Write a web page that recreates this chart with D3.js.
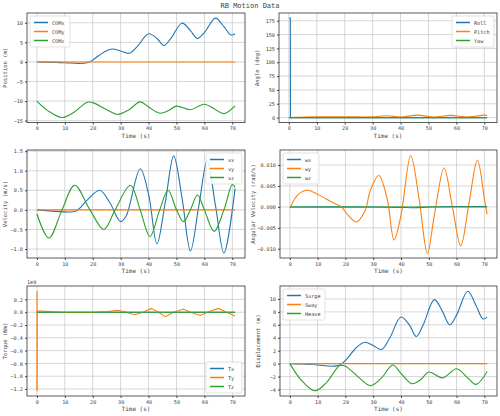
<!DOCTYPE html><html><head><meta charset="utf-8">
<script src="https://cdn.jsdelivr.net/npm/d3@7"></script>
<style>body{margin:0;background:#fff}text{font-family:"DejaVu Sans Mono",monospace;fill:#444}</style></head><body>
<svg id="c" width="500" height="416"></svg>
<script>
const xTicks=[0,10,20,30,40,50,60,70];
const surgeT=[0,5,10,15,18,20,24,27,30,33,36,40,43,45.5,48,52,55,57.5,60,64,67,69.5,71];
const surgeV=[0,-0.05,-0.2,-0.4,-0.2,0.5,2.5,3.3,2.8,2.2,4,7.2,6,4.2,6,9.9,8,6,7.5,11.2,9,6.9,7.2];
const heaveT=[0,4,9,13,18,20,25,29,33,37,40,44,47,50,55,60,64,67,71];
const heaveV=[0,-2.5,-4.2,-3,-0.3,-0.4,-2.2,-3.4,-2.2,-0.2,-1.5,-3.1,-2.5,-1.3,-2.2,-0.8,-2.2,-3.2,-1.2];
const comzV=heaveV.map(v=>v-10);
const zeroT=[0,71], zeroV=[0,0];
const rollT=[0,0.5,0.55,71], rollV=[180,180,0,0];
const pitchT=[0,10,20,30,35,40,46,52,58,64,70,71];
const pitchV=[0,1.5,1.5,1.3,3.5,1,4.5,1,4,1,4.5,4];
const vxT=[0,10,14,18,22.5,26,30,32,37,40,43,46,49,52,55,58,61,64,67,71];
const vxV=[0,-0.05,-0.03,0.25,0.5,0.2,-0.3,-0.15,1.05,0.4,-0.87,0.2,1.38,0.3,-1.05,0.1,1.25,0.1,-1.1,0.55];
const vzT=[0,4.3,9,13.5,19,24,28,33.5,37,40.5,44,47,50,52.5,55,57.5,60,63.5,67,70,71];
const vzV=[-0.1,-0.72,0,0.63,0,-0.5,0,0.63,0,-0.68,0,0.5,0,-0.3,0,0.38,0,-0.55,0,0.65,0.58];
const wyT=[0,3,6.5,10,15,18.5,21,24,27,29,32,35,37.5,40,43.5,46.5,49.5,52,55.5,58.5,61.5,64.5,67.5,70,71];
const wyV=[-0.0003,0.003,0.004,0.003,0.0012,0,-0.002,-0.0036,-0.001,0.004,0.0075,0.002,-0.0079,-0.002,0.0123,0.002,-0.0111,-0.002,0.0093,0,-0.0093,0.001,0.0112,0.002,-0.0018];
const wxT=[0,30,40,45,50,60,71], wxV=[0,0,-0.0001,-0.0002,0,0.0001,0.0001];
const tyT=[0,0.05,0.1,0.15,5,10,20,25,29,32,35,38,41,43.5,46,49,52.5,55,58.5,61,65,68,71];
const tyV=[-1.23,0.33,-1.23,0.02,0.01,0,0,0.01,0.03,0,-0.04,0,0.06,0,-0.07,0,0.05,0,-0.05,0,0.06,0,-0.06];
const colors=["#1f77b4","#ff7f0e","#2ca02c"];
const svg=d3.select("#c");
svg.append("text").attr("x",250).attr("y",8).attr("text-anchor","middle").attr("font-size",7).text("RB Motion Data");
function panel(o){
  const x=d3.scaleLinear().domain([-3.55,74.55]).range([o.l,o.r]);
  const y=d3.scaleLinear().domain(o.yd).range([o.b,o.t]);
  const g=svg.append("g");
  xTicks.forEach(t=>g.append("line").attr("x1",x(t)).attr("x2",x(t)).attr("y1",o.t).attr("y2",o.b).attr("stroke","#ccc").attr("stroke-width",0.8));
  o.yt.forEach(t=>g.append("line").attr("x1",o.l).attr("x2",o.r).attr("y1",y(t)).attr("y2",y(t)).attr("stroke","#ccc").attr("stroke-width",0.8));
  const smooth=d3.line().x(d=>x(d[0])).y(d=>y(d[1])).curve(d3.curveCatmullRom.alpha(0.5));
  const lin=d3.line().x(d=>x(d[0])).y(d=>y(d[1]));
  o.series.forEach((s,i)=>{
    const pts=s.t.map((t,j)=>[t,s.v[j]]);
    g.append("path").attr("d",(s.lin?lin:smooth)(pts)).attr("fill","none").attr("stroke",colors[i]).attr("stroke-width",1.1);
  });
  const ax=g.append("g").attr("transform",`translate(0,${o.b})`).call(d3.axisBottom(x).tickValues(xTicks).tickSize(2).tickPadding(2).tickFormat(d3.format("d")));
  const ay=g.append("g").attr("transform",`translate(${o.l},0)`).call(d3.axisLeft(y).tickValues(o.yt).tickSize(2).tickPadding(2).tickFormat(o.fmt));
  [ax,ay].forEach(a=>{a.select(".domain").remove();a.selectAll("text").attr("font-size",5.2).style("font-family","DejaVu Sans Mono").attr("fill","#444");a.selectAll("line").attr("stroke","#444");});
  g.append("rect").attr("x",o.l).attr("y",o.t).attr("width",o.r-o.l).attr("height",o.b-o.t).attr("fill","none").attr("stroke","#333").attr("stroke-width",0.8);
  g.append("text").attr("x",(o.l+o.r)/2).attr("y",o.b+15).attr("text-anchor","middle").attr("font-size",6).text("Time (s)");
  g.append("text").attr("transform",`translate(${o.l-(o.yo||20)},${(o.t+o.b)/2}) rotate(-90)`).attr("text-anchor","middle").attr("font-size",5.5).text(o.ylab);
  if(o.exp) g.append("text").attr("x",o.l).attr("y",o.t-2).attr("font-size",5.2).text(o.exp);
  const lw=o.lw||48,lh=31;
  let lx=o.leg.includes("r")?o.r-lw-3:o.l+3, ly=o.leg.includes("b")?o.b-lh-3:o.t+3;
  const lg=g.append("g").attr("transform",`translate(${lx},${ly})`);
  lg.append("rect").attr("width",lw).attr("height",lh).attr("fill","#fff").attr("fill-opacity",0.85).attr("stroke","#ccc").attr("stroke-width",0.6).attr("rx",1.5);
  o.names.forEach((n,i)=>{
    lg.append("line").attr("x1",4).attr("x2",18).attr("y1",6.5+i*9).attr("y2",6.5+i*9).attr("stroke",colors[i]).attr("stroke-width",1.5);
    lg.append("text").attr("x",22).attr("y",8.5+i*9).attr("font-size",5.2).text(n);
  });
}
const L=[27,245],R=[279,497],rows=[[13,122.6],[150,258],[286,396]];
panel({l:L[0],r:L[1],t:rows[0][0],b:rows[0][1],yd:[-15.5,12.5],yt:[-15,-10,-5,0,5,10],fmt:d3.format("d"),ylab:"Position (m)",leg:"tl",lw:40,names:["COMx","COMy","COMz"],
  series:[{t:surgeT,v:surgeV},{t:zeroT,v:zeroV},{t:heaveT,v:comzV}]});
panel({l:R[0],r:R[1],t:rows[0][0],b:rows[0][1],yd:[-9,189],yt:[0,25,50,75,100,125,150,175],fmt:d3.format("d"),ylab:"Angle (deg)",leg:"tr",lw:42,names:["Roll","Pitch","Yaw"],
  series:[{t:rollT,v:rollV,lin:true},{t:pitchT,v:pitchV},{t:zeroT,v:zeroV}]});
panel({l:L[0],r:L[1],t:rows[1][0],b:rows[1][1],yd:[-1.23,1.53],yt:[-1,-0.5,0,0.5,1,1.5],fmt:d3.format(".1f"),ylab:"Velocity (m/s)",leg:"tr",lw:36,names:["vx","vy","vz"],
  series:[{t:vxT,v:vxV},{t:zeroT,v:zeroV},{t:vzT,v:vzV}]});
panel({l:R[0]+1,r:R[1],t:rows[1][0],b:rows[1][1],yd:[-0.0122,0.0136],yt:[-0.01,-0.005,0,0.005,0.01],fmt:d3.format(".3f"),ylab:"Angular Velocity (rad/s)",yo:25,leg:"tl",lw:36,names:["wx","wy","wz"],
  series:[{t:wxT,v:wxV},{t:wyT,v:wyV},{t:zeroT,v:zeroV}]});
panel({l:L[0],r:L[1],t:rows[2][0],b:rows[2][1],yd:[-1.31,0.41],yt:[-1.2,-1,-0.8,-0.6,-0.4,-0.2,0,0.2],fmt:d3.format(".1f"),ylab:"Torque (Nm)",leg:"br",lw:36,exp:"1e9",names:["Tx","Ty","Tz"],
  series:[{t:zeroT,v:zeroV},{t:tyT,v:tyV,lin:true},{t:zeroT,v:zeroV}]});
panel({l:R[0]+1,r:R[1],t:rows[2][0],b:rows[2][1],yd:[-5,12],yt:[-4,-2,0,2,4,6,8,10],fmt:d3.format("d"),ylab:"Displacement (m)",leg:"tl",lw:42,names:["Surge","Sway","Heave"],
  series:[{t:surgeT,v:surgeV},{t:zeroT,v:zeroV},{t:heaveT,v:heaveV}]});
</script></body></html>
